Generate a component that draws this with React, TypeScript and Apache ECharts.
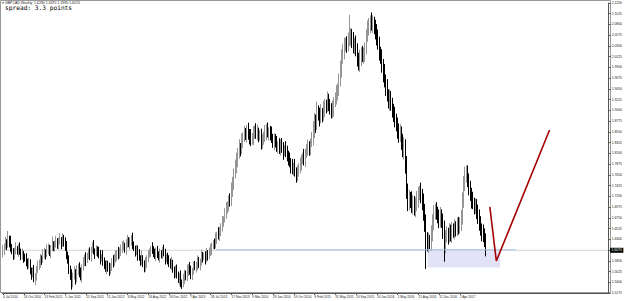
import React, { useEffect, useRef } from "react";
import * as echarts from "echarts";

// Weekly GBPCAD closes (one per week starting 4 Jul 2010)
const closes = [
  // 0-24
  1.608, 1.615, 1.622, 1.617, 1.633, 1.626, 1.612, 1.605, 1.598, 1.603, 1.611, 1.606, 1.612, 1.604, 1.596, 1.601, 1.592, 1.588, 1.583, 1.575, 1.58, 1.566, 1.558, 1.562, 1.545,
  // 25-53
  1.553, 1.566, 1.574, 1.583, 1.59, 1.586, 1.597, 1.604, 1.599, 1.608, 1.612, 1.603, 1.61, 1.621, 1.615, 1.619, 1.626, 1.618, 1.624, 1.63, 1.622, 1.633, 1.626, 1.612, 1.598, 1.587, 1.57, 1.556, 1.539,
  // 54-80
  1.552, 1.561, 1.548, 1.566, 1.574, 1.56, 1.552, 1.571, 1.583, 1.59, 1.585, 1.597, 1.602, 1.596, 1.608, 1.614, 1.606, 1.6, 1.609, 1.603, 1.598, 1.59, 1.594, 1.584, 1.579, 1.57, 1.577,
  // 81-110
  1.57, 1.563, 1.575, 1.584, 1.579, 1.591, 1.597, 1.603, 1.596, 1.606, 1.611, 1.612, 1.618, 1.61, 1.622, 1.628, 1.62, 1.625, 1.631, 1.619, 1.612, 1.605, 1.609, 1.598, 1.59, 1.584, 1.592, 1.578, 1.572, 1.583,
  // 111-138
  1.59, 1.596, 1.603, 1.611, 1.606, 1.604, 1.597, 1.605, 1.6, 1.592, 1.601, 1.598, 1.606, 1.599, 1.59, 1.594, 1.587, 1.583, 1.575, 1.579, 1.568, 1.561, 1.566, 1.556, 1.548, 1.552, 1.541, 1.539,
  // 139-160
  1.548, 1.558, 1.552, 1.566, 1.573, 1.562, 1.556, 1.564, 1.575, 1.57, 1.578, 1.585, 1.576, 1.583, 1.594, 1.591, 1.597, 1.59, 1.601, 1.595, 1.603, 1.608,
  // 161-188
  1.615, 1.622, 1.619, 1.633, 1.641, 1.636, 1.648, 1.654, 1.666, 1.672, 1.684, 1.692, 1.701, 1.712, 1.708, 1.73, 1.748, 1.767, 1.781, 1.797, 1.81, 1.822, 1.818, 1.839, 1.846, 1.852, 1.849, 1.86,
  // 189-226
  1.853, 1.848, 1.838, 1.843, 1.851, 1.862, 1.855, 1.856, 1.846, 1.849, 1.834, 1.839, 1.847, 1.855, 1.862, 1.853, 1.858, 1.85, 1.843, 1.836, 1.841, 1.832, 1.826, 1.829, 1.82, 1.831, 1.824, 1.814, 1.821, 1.818, 1.806, 1.799, 1.792, 1.787, 1.779, 1.784, 1.771, 1.766,
  // 227-262
  1.772, 1.781, 1.79, 1.797, 1.805, 1.799, 1.812, 1.818, 1.826, 1.821, 1.833, 1.839, 1.858, 1.88, 1.872, 1.901, 1.893, 1.884, 1.897, 1.891, 1.905, 1.913, 1.908, 1.922, 1.916, 1.904, 1.899, 1.906, 1.918, 1.925, 1.937, 1.945, 1.963, 1.985, 2.012, 2.026,
  // 263-285
  2.035, 2.041, 2.038, 2.047, 2.052, 2.058, 2.045, 2.037, 2.041, 2.026, 2.008, 1.995, 2.01, 2.021, 2.014, 2.016, 2.03, 2.055, 2.071, 2.078, 2.086, 2.08, 2.085,
  // 286-311
  2.074, 2.068, 2.052, 2.04, 2.022, 2.012, 1.995, 1.978, 1.961, 1.948, 1.933, 1.92, 1.928, 1.912, 1.901, 1.89, 1.882, 1.869, 1.86, 1.848, 1.852, 1.835, 1.818, 1.822, 1.79, 1.734,
  // 312-327
  1.705, 1.718, 1.713, 1.698, 1.708, 1.694, 1.702, 1.712, 1.726, 1.731, 1.723, 1.71, 1.685, 1.668, 1.632, 1.619,
  // 328-372
  1.628, 1.622, 1.64, 1.668, 1.684, 1.692, 1.687, 1.678, 1.671, 1.68, 1.668, 1.65, 1.615, 1.636, 1.643, 1.635, 1.648, 1.64, 1.652, 1.646, 1.655, 1.65, 1.661, 1.656, 1.665, 1.672, 1.712, 1.745, 1.768, 1.772, 1.752, 1.738, 1.725, 1.712, 1.706, 1.698, 1.7, 1.69, 1.675, 1.664, 1.652, 1.645, 1.64, 1.628, 1.607,
];
const firstOpen = 1.6;

// Upper / lower wick lengths, in units of wickUnit (price)
const wickUnit = 0.0016;
const wickUp = [
  6,4,8,5,9,3,7,5,4,6,8,3,5,7,4,6,3,5,8,4,
  7,5,3,6,9,4,5,7,3,6,4,8,5,3,7,6,4,5,9,3,
  5,7,4,6,8,3,6,4,5,9,4,6,3,7,5,8,4,6,3,5,
  7,4,6,5,8,3,5,7,4,6,9,3,5,4,7,6,3,8,5,4,
  6,5,7,3,4,8,5,6,3,7,4,5,9,6,3,5,7,4,6,5,
  8,4,3,6,5,7,4,9,3,5,6,4,7,5,3,8,6,4,5,7,
  3,6,4,5,8,7,3,5,6,4,9,5,3,6,7,4,5,8,3,6,
  5,4,7,3,6,8,4,5,6,3,7,5,4,9,6,3,5,7,4,6,
  8,5,4,6,7,3,9,5,6,8,4,7,10,5,6,9,12,8,7,10,
  9,7,11,6,8,5,10,7,6,9,5,8,6,10,4,7,9,5,6,8,
  7,5,9,6,8,4,6,10,5,7,6,9,4,8,5,7,6,4,9,5,
  6,8,5,7,4,9,6,8,5,7,6,4,9,5,7,8,6,5,10,12,
  9,7,11,6,8,10,5,9,7,6,11,8,5,7,9,6,8,10,7,9,
  12,10,8,11,7,9,10,30,9,8,12,7,10,9,8,11,7,9,10,8,
  9,11,10,8,12,9,7,10,8,11,9,7,10,8,12,9,11,7,10,8,
  9,8,11,7,10,8,12,9,10,14,11,9,8,10,7,11,9,8,10,12,
  9,7,11,8,10,12,9,8,10,7,12,9,11,8,10,7,9,11,8,10,
  12,8,9,7,10,8,9,7,11,8,9,10,7,12,10,11,9,8,8,10,
  9,8,11,7,10,9,8,11,9,7,10,8,9,
];
const wickDown = [
  5,7,4,6,3,8,5,4,7,6,3,5,8,4,6,5,7,3,6,5,
  4,6,8,5,3,7,6,4,5,8,6,3,5,7,4,6,5,8,3,6,
  7,4,5,6,3,8,5,7,4,6,5,8,7,9,6,4,8,5,7,6,
  5,8,4,6,7,3,5,6,8,4,5,7,3,6,5,8,4,6,7,5,
  8,5,6,4,7,5,3,6,8,5,4,7,6,3,5,8,6,4,7,5,
  6,4,7,5,8,3,6,5,4,7,6,8,5,3,6,4,7,5,8,6,
  4,7,5,6,3,8,5,6,7,4,6,5,8,7,5,6,9,7,8,6,
  7,5,6,8,4,6,7,5,3,6,8,4,7,5,6,3,8,5,6,4,
  5,7,4,6,5,8,4,6,7,5,6,4,7,5,8,6,5,7,9,6,
  8,10,7,9,6,11,8,7,10,9,12,8,6,10,7,9,11,8,6,10,
  9,7,8,11,6,10,8,7,9,12,6,8,10,7,9,8,11,6,10,8,
  9,7,12,8,10,6,11,9,7,8,10,6,9,11,7,8,10,9,6,8,
  10,12,8,9,11,7,10,8,12,9,7,11,8,10,9,12,7,8,10,9,
  8,10,9,12,7,11,9,8,10,9,11,12,8,10,7,9,11,8,10,9,
  8,7,9,10,8,11,9,12,10,8,11,9,10,12,8,11,9,10,13,8,
  10,9,11,8,12,10,9,11,10,13,14,12,10,9,11,8,10,9,11,8,
  10,9,11,12,10,14,40,9,11,8,10,9,12,8,10,9,11,10,9,12,
  20,9,8,10,7,9,11,8,10,9,8,10,9,11,7,10,9,12,8,10,
  9,11,8,10,9,11,8,10,9,12,10,9,8,
];

// Time axis: weekly slots (incl. empty space to the right) and the date labels every 16 weeks
const totalSlots = 467;
const labelEvery = 16;
const dateLabels = [
  "4 Jul 2010", "24 Oct 2010", "13 Feb 2011", "5 Jun 2011", "25 Sep 2011", "15 Jan 2012",
  "6 May 2012", "26 Aug 2012", "16 Dec 2012", "7 Apr 2013", "28 Jul 2013", "17 Nov 2013",
  "9 Mar 2014", "29 Jun 2014", "19 Oct 2014", "8 Feb 2015", "31 May 2015", "20 Sep 2015",
  "10 Jan 2016", "1 May 2016", "21 Aug 2016", "11 Dec 2016", "2 Apr 2017", "23 Jul 2017",
];

// Price axis ticks
const priceTicks = [1.5175, 1.54, 2.125];
const priceStep = 0.0225;

// Annotations (week index, price)
const bidPrice = 1.607;
const supportLine = [[164, 1.608], [395, 1.608]];
const zoneBox = [[327, 1.608], [383, 1.571]];
const arrowPath = [[375, 1.698], [380, 1.5845], [421, 1.859]];

const headerText = "GBPCAD,Weekly  1.6280 1.6370 1.5990 1.6070";
const spreadText = "spread: 3.3 points";

export default function App() {
  const ref = useRef<HTMLDivElement>(null);
  useEffect(() => {
    if (!ref.current) return;
    const chart = echarts.init(ref.current, undefined, { renderer: "svg" });
    const categories = Array.from({ length: totalSlots }, (_, i) => String(i));
    const candles = closes.map((c, i) => {
      const o = i === 0 ? firstOpen : closes[i - 1];
      const hi = Math.max(o, c) + wickUp[i] * wickUnit;
      const lo = Math.min(o, c) - wickDown[i] * wickUnit;
      return [o, c, lo, hi];
    });
    const showIdx = (index: number) =>
      index % labelEvery === 0 && index / labelEvery < dateLabels.length;
    const font = "Liberation Sans";
    const option: any = {
      animation: false,
      grid: { left: 1, right: 15, top: 3, bottom: 8, show: false },
      xAxis: {
        type: "category",
        data: categories,
        boundaryGap: true,
        axisLine: { lineStyle: { color: "#555", width: 1 } },
        axisTick: { show: true, alignWithLabel: true, interval: (i: number) => showIdx(i), length: 2, lineStyle: { color: "#555" } },
        axisLabel: {
          interval: (i: number) => showIdx(i),
          formatter: (_v: string, i: number) => (showIdx(i) ? dateLabels[i / labelEvery] : ""),
          fontSize: 3.2,
          color: "#222",
          align: "left",
          margin: 2,
          fontFamily: font,
          showMaxLabel: false,
          hideOverlap: false,
        },
        splitLine: { show: false },
      },
      yAxis: {
        type: "value",
        position: "right",
        min: priceTicks[0],
        max: priceTicks[priceTicks.length - 1],
        interval: priceStep,
        axisLine: { show: true, lineStyle: { color: "#555", width: 1 } },
        axisTick: { show: true, length: 2, lineStyle: { color: "#555" } },
        axisLabel: {
          fontSize: 3.4,
          color: "#222",
          margin: 3,
          fontFamily: font,
          formatter: (v: number) => (Math.abs(v - bidPrice) < 0.008 ? "" : v.toFixed(4)),
        },
        splitLine: { show: false },
      },
      series: [
        {
          type: "line",
          data: [[0, bidPrice], [totalSlots - 1, bidPrice]],
          symbol: "none",
          silent: true,
          z: 1,
          lineStyle: { color: "#d4d4d4", width: 1 },
          endLabel: {
            show: true,
            formatter: () => bidPrice.toFixed(4),
            backgroundColor: "#000",
            color: "#fff",
            fontSize: 3.4,
            fontFamily: font,
            padding: [1, 1.5],
            distance: 2,
          },
        },
        {
          type: "candlestick",
          data: candles,
          barWidth: 1.2,
          z: 3,
          itemStyle: {
            color: "#959595",
            color0: "#000",
            borderColor: "#959595",
            borderColor0: "#000",
            borderWidth: 1,
          },
          markArea: {
            silent: true,
            itemStyle: { color: "#e3e3f8" },
            data: [[{ coord: zoneBox[0] }, { coord: zoneBox[1] }]],
          },
        },
        {
          type: "line",
          data: supportLine,
          symbol: "none",
          silent: true,
          z: 4,
          lineStyle: { color: "#a3bfec", width: 1 },
        },
        {
          type: "line",
          data: arrowPath,
          symbol: "none",
          silent: true,
          z: 5,
          lineStyle: { color: "#a40000", width: 1.6 },
        },
      ],
      graphic: [
        {
          type: "rect",
          silent: true,
          shape: { x: 0.5, y: 0.5, width: 610, height: 292 },
          style: { fill: "none", stroke: "#9a9a9a", lineWidth: 1 },
        },
        {
          type: "text",
          left: 1.5,
          top: 1,
          silent: true,
          style: { text: "▼", fontSize: 3, fill: "#222", fontFamily: font },
        },
        {
          type: "text",
          left: 5,
          top: 1.2,
          silent: true,
          style: { text: headerText, fontSize: 3.5, fill: "#222", fontFamily: font },
        },
        {
          type: "text",
          left: 5,
          top: 4.5,
          silent: true,
          style: { text: spreadText, fontSize: 6.2, fill: "#000", fontFamily: "DejaVu Sans Mono" },
        },
      ],
    };
    chart.setOption(option);
    return () => chart.dispose();
  }, []);
  return (
    <div
      ref={ref}
      style={{ position: "fixed", left: 0, top: 0, width: 625, height: 301, background: "#fff" }}
    />
  );
}
